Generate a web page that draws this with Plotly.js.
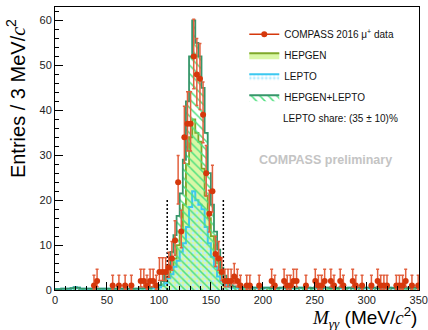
<!DOCTYPE html>
<html>
<head>
<meta charset="utf-8">
<script src="https://cdn.plot.ly/plotly-3.0.1.min.js"></script>
<style>
html,body{margin:0;padding:0;background:#fff;}
#chart{width:428px;height:330px;}
</style>
</head>
<body>
<div id="chart"></div>
<script>
// ---------- data ----------
const binWidth = 3;   // MeV/c^2
const nBins = 117;    // 0 .. 351

// LEPTO histogram, one value per 3 MeV bin starting at 0
const leptoVals = [
 0.2,0.2,0.3,0.3,0.3,0.4,0.6,0.5,0.3,0.3,0.3,0.3,
 0.3,0.3,0.3,0.3,0.3,0.3,0.3,0.3,0.3,0.3,0.3,0.3,
 0.3,0.3,0.3,0.3,0.3,0.3,0.3,0.4,0.4,
 0.6,1,1.5,2.6,3.5,5.2,6.5,8.5,10.4,14,18.5,22,20,19,18,14,10.4,7.4,5.2,3,2,1.2,0.8,0.6,
 0.5,0.5,0.4,0.5,0.5,0.4,0.5,0.5,0.5,0.4,
 0.5,0.5,0.4,0.5,0.4,0.5,0.5,0.4,0.5,0.5,
 0.4,0.5,0.5,0.4,0.5,0.4,0.5,0.5,0.4,0.5,
 0.5,0.4,0.5,0.4,0.5,0.5,0.4,0.5,0.4,0.5,
 0.5,0.4,0.5,0.5,0.4,0.5,0.4,0.5,0.5,0.4,
 0.5,0.4,0.5,0.5,0.4,0.5,0.4,0.5,0.5,0.4
];

// HEPGEN histogram
const hepgenVals = [
 0,0,0,0,0,0,0,0,0,0,0,0,
 0,0,0,0,0,0,0,0,0,0,0,0,
 0,0,0,0.1,0.1,0.2,0.2,0.3,0.3,
 0.5,1,2,3,5,7,10,13,19,28,34,38,35,33,27,21,16,12,8,6,3,2,1,0.5,
 0.3,0.2,0.2,0.1,0.1,0.05,0.05,0.05,0.05,0.05,
 0.05,0.05,0.05,0.05,0.05,0.05,0.05,0.05,0.05,0.05,
 0.05,0.05,0.05,0.05,0.05,0.05,0.05,0.05,0.05,0.05,
 0.05,0.05,0.05,0.05,0.05,0.05,0.05,0.05,0.05,0.05,
 0.05,0.05,0.05,0.05,0.05,0.05,0.05,0.05,0.05,0.05,
 0.05,0.05,0.05,0.05,0.05,0.05,0.05,0.05,0.05,0.05
];

// HEPGEN+LEPTO histogram
const sumVals = [
 0.2,0.2,0.3,0.3,0.3,0.4,0.6,0.5,0.3,0.3,0.3,0.3,
 0.3,0.3,0.3,0.3,0.3,0.3,0.3,0.3,0.3,0.3,0.3,0.3,
 0.3,0.3,0.3,0.4,0.4,0.5,0.5,0.7,0.7,
 1.1,2,3.5,5.6,8.5,12.2,16.5,21.5,29,42,52,60,55,52,45,35,26,19,13,9,5,3.2,1.8,1.1,
 0.8,0.7,0.6,0.6,0.6,0.45,0.55,0.55,0.55,0.45,
 0.55,0.55,0.45,0.55,0.45,0.55,0.55,0.45,0.55,0.55,
 0.45,0.55,0.55,0.45,0.55,0.45,0.55,0.55,0.45,0.55,
 0.55,0.45,0.55,0.45,0.55,0.55,0.45,0.55,0.45,0.55,
 0.55,0.45,0.55,0.55,0.45,0.55,0.45,0.55,0.55,0.45,
 0.55,0.45,0.55,0.55,0.45,0.55,0.45,0.55,0.55,0.45
];

// COMPASS 2016 mu+ data (bin centres and counts of non-empty bins)
const dataX = [37.5,40.5,55.5,61.5,67.5,73.5,82.5,85.5,88.5,91.5,94.5,97.5,
 100.5,103.5,106.5,109.5,112.5,115.5,118.5,121.5,124.5,127.5,130.5,133.5,
 136.5,139.5,142.5,145.5,148.5,151.5,154.5,157.5,160.5,163.5,166.5,169.5,
 172.5,175.5,178.5,184.5,187.5,196.5,208.5,211.5,220.5,223.5,226.5,229.5,
 232.5,241.5,250.5,253.5,256.5,259.5,265.5,268.5,274.5,277.5,286.5,289.5,
 295.5,304.5,310.5,313.5,316.5,319.5,328.5,331.5,334.5,337.5,343.5,349.5];
const dataY = [1,2,1,1,1,1,2,2,1,2,2,1,
 4,4,4,5,7,11,24,13,34,37,37,52,
 48,47,39,26,17,22,8,7,4,2,2,2,
 3,2,1,1,1,1,2,1,2,1,1,2,
 2,1,2,1,1,2,2,1,2,1,2,1,
 1,1,2,1,1,1,1,1,1,2,1,1];
// Poisson (Garwood) error table: count -> [down, up]
const poissonErr = {1:[0.83,2.30],2:[1.29,2.64],3:[1.63,2.92],4:[1.91,3.16],5:[2.16,3.38],
 7:[2.58,3.77],8:[2.77,3.95],11:[3.26,4.43],13:[3.58,4.73],17:[4.08,5.20],22:[4.65,5.76],
 24:[4.86,5.96],26:[5.06,6.16],34:[5.80,6.88],37:[6.06,7.13],39:[6.22,7.30],
 47:[6.83,7.90],48:[6.91,7.97],52:[7.19,8.25]};

// signal window cut lines
const cutLow = 108, cutHigh = 162, cutTop = 20.5;

const xTicks = [0,50,100,150,200,250,300,350];
const yTicks = [0,10,20,30,40,50,60];

const legendNames = ['COMPASS 2016 μ<sup>+</sup> data','HEPGEN','LEPTO','HEPGEN+LEPTO'];
const shareText = 'LEPTO share: (35 ± 10)%';
const prelimText = 'COMPASS preliminary';

// ---------- build traces ----------
const edges = [];
for (let i = 0; i <= nBins; i++) edges.push(i * binWidth);
function stepY(v){ return v.concat([v[v.length-1]]); }

const errUp = dataY.map(n => poissonErr[n][1]);
const errDn = dataY.map(n => poissonErr[n][0]);

const FONT = 'Liberation Sans, Arial, sans-serif';
const dataColor = '#d5380c';

const traces = [
 { // HEPGEN
  x: edges, y: stepY(hepgenVals), type:'scatter', mode:'lines',
  line:{shape:'hv', color:'#7fa82a', width:1.8},
  fill:'tozeroy', fillcolor:'#d9f7a6',
  name: legendNames[1], legendrank: 2, legendgroup:'b', hoverinfo:'skip'
 },
 { // LEPTO
  x: edges, y: stepY(leptoVals), type:'scatter', mode:'lines',
  line:{shape:'hv', color:'#3cc8f0', width:2},
  fill:'tozeroy', fillcolor:'rgba(0,0,0,0)',
  fillpattern:{shape:'.', fgcolor:'#b8ecff', bgcolor:'rgba(0,0,0,0)', size:4, solidity:0.4},
  name: legendNames[2], legendrank: 3, legendgroup:'c', hoverinfo:'skip'
 },
 { // HEPGEN+LEPTO
  x: edges, y: stepY(sumVals), type:'scatter', mode:'lines',
  line:{shape:'hv', color:'#36966a', width:1.8},
  fill:'tozeroy', fillcolor:'rgba(0,0,0,0)',
  fillpattern:{shape:'\\', fgcolor:'#4fe07f', bgcolor:'rgba(0,0,0,0)', size:6, solidity:0.25},
  name: legendNames[3], legendrank: 4, legendgroup:'d', hoverinfo:'skip'
 },
 { // cut lines
  x:[cutLow,cutLow,null,cutHigh,cutHigh], y:[0,cutTop,null,0,cutTop],
  type:'scatter', mode:'lines', line:{color:'#000', width:1.5, dash:'2px,2px'},
  showlegend:false, hoverinfo:'skip'
 },
 { // data
  x: dataX, y: dataY, type:'scatter', mode:'markers',
  marker:{color:dataColor, size:6},
  error_y:{type:'data', symmetric:false, array:errUp, arrayminus:errDn, color:'#e2603e', thickness:1.5, width:1.5},
  error_x:{type:'constant', value: binWidth/2, color:'#e2603e', thickness:1.5, width:0},
  showlegend:false, hoverinfo:'skip'
 },
 { // legend entry for data
  x:[null], y:[null], type:'scatter', mode:'lines+markers',
  line:{color:dataColor, width:1.5}, marker:{color:dataColor, size:6},
  name: legendNames[0], legendrank: 1, legendgroup:'a'
 }
];

const layout = {
 width:428, height:330,
 margin:{l:55, r:9, t:7, b:40},
 paper_bgcolor:'#fff', plot_bgcolor:'#fff',
 font:{family:FONT, size:11, color:'#222'},
 showlegend:true,
 legend:{x:0.52, y:0.955, xanchor:'left', yanchor:'top', bgcolor:'rgba(0,0,0,0)',
   font:{family:FONT, size:10, color:'#111'}, tracegroupgap:2, traceorder:'grouped', itemwidth:30},
 xaxis:{range:[0,350.3], showgrid:false, zeroline:false, showline:true, mirror:true,
   linecolor:'#000', linewidth:1, ticks:'inside', ticklen:8, tickwidth:1, tickcolor:'#000',
   tickmode:'array', tickvals:xTicks, ticktext:xTicks.map(String), tickfont:{size:11, color:'#222'},
   minor:{dtick:10, tick0:0, ticks:'inside', ticklen:4, tickcolor:'#000', tickwidth:1}},
 yaxis:{range:[0,63], showgrid:false, zeroline:false, showline:true, mirror:true,
   linecolor:'#000', linewidth:1, ticks:'inside', ticklen:8, tickwidth:1, tickcolor:'#000',
   tickmode:'array', tickvals:yTicks, ticktext:yTicks.map(String), tickfont:{size:11, color:'#222'},
   minor:{dtick:2, tick0:0, ticks:'inside', ticklen:4, tickcolor:'#000', tickwidth:1}},
 annotations:[
  {xref:'paper', yref:'paper', x:-0.108, y:0.965, xanchor:'center', yanchor:'top', textangle:-90,
   showarrow:false, font:{family:FONT, size:20, color:'#000'},
   text:'Entries / 3 MeV/<span style="font-family:Liberation Serif"><i>c</i></span><sup>2</sup>'},
  {xref:'paper', yref:'paper', x:1.0, y:-0.097, xanchor:'right', yanchor:'middle',
   showarrow:false, font:{family:FONT, size:19, color:'#000'},
   text:'<span style="font-family:Liberation Serif"><i>M</i><sub><i>γγ</i></sub></span> (MeV/<span style="font-family:Liberation Serif"><i>c</i></span><sup>2</sup>)'},
  {xref:'paper', yref:'paper', x:0.62, y:0.607, xanchor:'left', yanchor:'middle',
   showarrow:false, font:{family:FONT, size:10, color:'#111'}, text:shareText},
  {xref:'paper', yref:'paper', x:0.556, y:0.459, xanchor:'left', yanchor:'middle',
   showarrow:false, font:{family:FONT, size:12.5, color:'#c4c4c4'}, text:'<b>'+prelimText+'</b>'}
 ]
};

Plotly.newPlot('chart', traces, layout, {staticPlot:true, displayModeBar:false});
</script>
</body>
</html>
